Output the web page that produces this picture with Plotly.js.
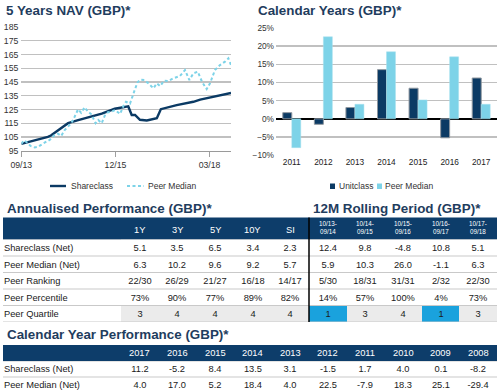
<!DOCTYPE html>
<html><head><meta charset="utf-8">
<script src="https://cdn.plot.ly/plotly-3.0.1.min.js"></script>
<style>html,body{margin:0;padding:0;background:#fff;}#chart{width:497px;height:391px;}</style>
</head><body><div id="chart"></div>
<script>
// ---------- 5 Years NAV ----------
const shareDates = ['2013-09-30','2014-01-27','2014-05-20','2014-06-15','2014-08-15','2014-11-12','2015-02-08','2015-05-20','2015-09-02','2015-12-24','2016-04-20','2016-05-20','2016-06-18','2016-07-31','2016-09-29','2016-12-25','2017-01-29','2017-06-16','2017-11-09','2018-01-07','2018-05-31','2018-10-03'];
const shareNav = [100,102.5,105,106,109.5,115,117.3,119.5,122,125.5,127.2,121,121,117.5,117,118.6,125.2,128.2,130.6,132.2,134.8,137];
const peerDates = ['2013-09-30','2013-10-24','2013-11-19','2013-12-19','2014-01-25','2014-02-23','2014-04-21','2014-06-07','2014-07-17','2014-08-15','2014-09-13','2014-10-13','2014-11-11','2014-12-10','2015-01-07','2015-02-07','2015-03-06','2015-04-05','2015-05-04','2015-06-03','2015-07-10','2015-08-02','2015-09-01','2015-09-28','2015-10-26','2015-11-24','2015-12-26','2016-01-15','2016-02-09','2016-03-08','2016-03-31','2016-05-05','2016-06-03','2016-07-08','2016-07-31','2016-09-07','2016-10-12','2016-11-25','2016-12-25','2017-01-23','2017-02-27','2017-04-04','2017-05-17','2017-07-14','2017-08-28','2017-10-05','2017-11-09','2017-12-17','2018-01-24','2018-03-05','2018-04-03','2018-05-16','2018-06-29','2018-08-12','2018-09-10','2018-10-03'];
const peerNav = [100,102.5,101,98.5,97.4,97.8,100.8,103,106.4,107.4,105.7,110,112.5,115,119.5,125.1,122.6,126.6,123.4,121.5,115,117.3,115,120.5,123,123.4,124.6,123.4,121.7,127.5,130.6,129.3,136.7,144.5,146.6,146.4,144,140.4,144,142,146,145.7,147.6,149.3,153.7,146.4,151.3,152.5,145,139.8,144,153.7,157.3,159.8,162.2,157.3];
const navTickVals = ['2013-09-30','2015-12-30','2018-03-30'];
const navTickText = ['09/13','12/15','03/18'];

// ---------- Calendar Years chart ----------
const barYears = ['2011','2012','2013','2014','2015','2016','2017'];
const barUnitclass = [1.7,-1.5,3.1,13.5,8.4,-5.2,11.2];
const barPeer = [-7.9,22.5,4.0,18.4,5.2,17.0,4.0];

// ---------- Annualised / Rolling tables ----------
const rowLabels = ['Shareclass (Net)','Peer Median (Net)','Peer Ranking','Peer Percentile','Peer Quartile'];
const annPeriods = ['1Y','3Y','5Y','10Y','SI'];
const annShareclass = [5.1,3.5,6.5,3.4,2.3];
const annPeerMedian = [6.3,10.2,9.6,9.2,5.7];
const annRanking = ['22/30','26/29','21/27','16/18','14/17'];
const annPercentile = [73,90,77,89,82];
const annQuartile = [3,4,4,4,4];
const rollPeriods = ['10/13-09/14','10/14-09/15','10/15-09/16','10/16-09/17','10/17-09/18'];
const rollShareclass = [12.4,9.8,-4.8,10.8,5.1];
const rollPeerMedian = [5.9,10.3,26.0,-1.1,6.3];
const rollRanking = ['5/30','18/31','31/31','2/32','22/30'];
const rollPercentile = [14,57,100,4,73];
const rollQuartile = [1,3,4,1,3];

// ---------- Calendar Year Performance table ----------
const cyYears = ['2017','2016','2015','2014','2013','2012','2011','2010','2009','2008'];
const cyLabels = ['Shareclass (Net)','Peer Median (Net)'];
const cyShareclass = [11.2,-5.2,8.4,13.5,3.1,-1.5,1.7,4.0,0.1,-8.2];
const cyPeerMedian = [4.0,17.0,5.2,18.4,4.0,22.5,-7.9,18.3,25.1,-29.4];

// ---------- helpers / styles ----------
const W = 497, H = 391;
const px = v => v / W;
const py = v => 1 - v / H;
const FONT = 'Liberation Sans, Arial, sans-serif';
const NAVY = '#0b3a64';
const HEAD = '#0d3d6a';
const LIGHT = '#7dd3e8';
const TITLE = '#1f3d5e';
const CYAN = '#1aa2dd';
const QGRAY = '#ebebeb';
const SEP = '#c9c9c9';
const f1 = v => v.toFixed(1);

// table matrices built from the arrays
const tCols = annPeriods.concat(rollPeriods);
const tShare = annShareclass.concat(rollShareclass).map(f1);
const tPeer = annPeerMedian.concat(rollPeerMedian).map(f1);
const tRank = annRanking.concat(rollRanking);
const tPct = annPercentile.concat(rollPercentile).map(v => v + '%');
const tQuart = annQuartile.concat(rollQuartile);
const tText = [tShare, tPeer, tRank, tPct, tQuart.map(String)];
const tZ = [tCols.map(() => 0), tCols.map(() => 0), tCols.map(() => 0), tCols.map(() => 0), tQuart.map(q => q === 1 ? 2 : 1)];
const cyText = [cyShareclass.map(f1), cyPeerMedian.map(f1)];
const cyZ = [cyYears.map(() => 0), cyYears.map(() => 0)];
const cellScale = [[0, '#ffffff'], [0.5, QGRAY], [1, CYAN]];

const traces = [
  {type: 'scatter', mode: 'lines', name: 'Shareclass', x: shareDates, y: shareNav,
   xaxis: 'x', yaxis: 'y', line: {color: NAVY, width: 2.4}, showlegend: false, hoverinfo: 'skip'},
  {type: 'scatter', mode: 'lines', name: 'Peer Median', x: peerDates, y: peerNav,
   xaxis: 'x', yaxis: 'y', line: {color: LIGHT, width: 2, dash: '3px,2.5px'}, showlegend: false, hoverinfo: 'skip'},
  {type: 'bar', name: 'Unitclass', x: barYears, y: barUnitclass, xaxis: 'x2', yaxis: 'y2',
   marker: {color: NAVY, line: {color: '#8e969e', width: 1}}, showlegend: false, hoverinfo: 'skip'},
  {type: 'bar', name: 'Peer Median', x: barYears, y: barPeer, xaxis: 'x2', yaxis: 'y2',
   marker: {color: LIGHT, line: {color: '#a9e0ee', width: 0.5}}, showlegend: false, hoverinfo: 'skip'},
  {type: 'heatmap', x: tCols, y: rowLabels, z: tZ, text: tText, texttemplate: '%{text}',
   textfont: {family: FONT, size: 9.3, color: '#1a1a1a'}, colorscale: cellScale, zmin: 0, zmax: 2,
   showscale: false, xaxis: 'x3', yaxis: 'y3', hoverinfo: 'skip'},
  {type: 'heatmap', x: cyYears, y: cyLabels, z: cyZ, text: cyText, texttemplate: '%{text}',
   textfont: {family: FONT, size: 9.3, color: '#1a1a1a'}, colorscale: cellScale, zmin: 0, zmax: 2,
   showscale: false, xaxis: 'x4', yaxis: 'y4', hoverinfo: 'skip'}
];

const tickFont = {family: FONT, size: 8.7, color: '#333'};
const gridColor = '#c0c0c0';

const annotations = [];
function title(text, x, y, anchor) {
  annotations.push({text: '<b>' + text + '</b>', xref: 'paper', yref: 'paper', x: px(x), y: py(y),
    xanchor: anchor || 'left', yanchor: 'middle', showarrow: false,
    font: {family: FONT, size: 13.4, color: TITLE}});
}
title('5 Years NAV (GBP)*', 3.5, 10.5);
title('Calendar Years (GBP)*', 256, 10.5);
title('Annualised Performance (GBP)*', 4.5, 208.5);
title('12M Rolling Period (GBP)*', 311, 208.5);
title('Calendar Year Performance (GBP)*', 4.5, 334.5);

// table headers placed on the table axes (category index positions)
annPeriods.forEach((p, i) => annotations.push({text: p, xref: 'x3', yref: 'paper', x: i, y: py(230),
  showarrow: false, yanchor: 'middle', font: {family: FONT, size: 9.3, color: '#ffffff'}}));
rollPeriods.forEach((p, i) => annotations.push({text: p.replace('-', '-<br>'), xref: 'x3', yref: 'paper',
  x: annPeriods.length + i, y: py(227.8),
  showarrow: false, yanchor: 'middle', font: {family: FONT, size: 6.3, color: '#ffffff'}}));
cyYears.forEach((p, i) => annotations.push({text: p, xref: 'x4', yref: 'paper', x: i, y: py(353.3),
  showarrow: false, yanchor: 'middle', font: {family: FONT, size: 9.3, color: '#ffffff'}}));

// legends
function legText(text, x, y) {
  annotations.push({text: text, xref: 'paper', yref: 'paper', x: px(x), y: py(y), xanchor: 'left', yanchor: 'middle',
    showarrow: false, font: {family: FONT, size: 8.5, color: '#333'}});
}
legText('Shareclass', 69, 186);
legText('Peer Median', 146, 186);
legText('Unitclass', 337, 186);
legText('Peer Median', 383, 186);

const shapes = [
  // header bands
  {type: 'rect', xref: 'paper', yref: 'paper', x0: px(3), x1: 1, y0: py(239.5), y1: py(217.5), fillcolor: HEAD, line: {width: 0}, layer: 'below'},
  {type: 'rect', xref: 'paper', yref: 'paper', x0: px(3), x1: 1, y0: py(361), y1: py(345), fillcolor: HEAD, line: {width: 0}, layer: 'below'},
  // legend symbols
  {type: 'line', xref: 'paper', yref: 'paper', x0: px(50), x1: px(66), y0: py(186), y1: py(186), line: {color: NAVY, width: 2.4}},
  {type: 'line', xref: 'paper', yref: 'paper', x0: px(127), x1: px(144), y0: py(186), y1: py(186), line: {color: LIGHT, width: 2, dash: '3px,2.5px'}},
  {type: 'rect', xref: 'paper', yref: 'paper', x0: px(330), x1: px(335), y0: py(189), y1: py(183.5), fillcolor: NAVY, line: {width: 0}},
  {type: 'rect', xref: 'paper', yref: 'paper', x0: px(377), x1: px(382), y0: py(189), y1: py(183.5), fillcolor: LIGHT, line: {width: 0}}
];
// row separators
for (let i = 0; i <= rowLabels.length; i++) {
  shapes.push({type: 'line', xref: 'paper', yref: 'y3', x0: px(3), x1: 1, y0: i - 0.5, y1: i - 0.5, line: {color: SEP, width: 1}, layer: 'above'});
}
for (let i = 0; i <= cyLabels.length; i++) {
  shapes.push({type: 'line', xref: 'paper', yref: 'y4', x0: px(3), x1: 1, y0: i - 0.5, y1: i - 0.5, line: {color: SEP, width: 1}, layer: 'above'});
}
// divider between annualised and rolling blocks
shapes.push({type: 'line', xref: 'x3', yref: 'paper', x0: annPeriods.length - 0.5, x1: annPeriods.length - 0.5,
  y0: py(322), y1: py(217.5), line: {color: '#000', width: 1.5}, layer: 'above'});

const hidden = {showticklabels: false, showgrid: false, zeroline: false, showline: false, ticks: '', fixedrange: true};

const layout = {
  width: W, height: H, autosize: false,
  margin: {l: 0, r: 0, t: 0, b: 0, pad: 0},
  paper_bgcolor: '#fff', plot_bgcolor: '#fff',
  font: {family: FONT, size: 9, color: '#222'},
  showlegend: false, hovermode: false,
  barmode: 'group', bargap: 0.43, bargroupgap: 0,
  xaxis: {domain: [px(21.3), px(231)], anchor: 'y', type: 'date',
    range: ['2013-09-30', '2018-10-03'], tickvals: navTickVals, ticktext: navTickText,
    ticks: 'outside', ticklen: 5, tickwidth: 1, tickcolor: '#a0a0a0', showgrid: false, zeroline: false,
    showline: true, linecolor: '#9a9a9a', linewidth: 1.5, tickfont: tickFont},
  yaxis: {domain: [py(150.7), py(27)], anchor: 'x', range: [95, 185], tick0: 95, dtick: 10,
    showgrid: true, gridcolor: gridColor, gridwidth: 1.3, zeroline: false, showline: false, ticks: '',
    tickfont: tickFont, ticklabelstandoff: 2},
  xaxis2: {domain: [px(276), 1], anchor: 'y2', type: 'category', ticks: '', showgrid: false, zeroline: false,
    showline: false, tickfont: {family: FONT, size: 8.3, color: '#222'}},
  yaxis2: {domain: [py(155.3), py(27.7)], anchor: 'x2', range: [-10, 25], dtick: 5, ticksuffix: '%',
    showgrid: true, gridcolor: gridColor, gridwidth: 1.3, zeroline: true, zerolinecolor: '#000', zerolinewidth: 1.5,
    showline: false, ticks: '', tickfont: {family: FONT, size: 8.3, color: '#333'}, ticklabelstandoff: 1},
  xaxis3: Object.assign({domain: [px(121), 1], anchor: 'y3', type: 'category', range: [-0.5, tCols.length - 0.5]}, hidden),
  yaxis3: {domain: [py(322), py(239.5)], anchor: 'free', position: px(3), side: 'right', type: 'category',
    range: [rowLabels.length - 0.5, -0.5], showgrid: false, zeroline: false, showline: false, ticks: '',
    tickfont: {family: FONT, size: 9.3, color: '#1a1a1a'}, ticklabelstandoff: 0},
  xaxis4: Object.assign({domain: [px(121), 1], anchor: 'y4', type: 'category', range: [-0.5, cyYears.length - 0.5]}, hidden),
  yaxis4: {domain: [0, py(361)], anchor: 'free', position: px(3), side: 'right', type: 'category',
    range: [-0.5 + 30 / 16, -0.5], showgrid: false, zeroline: false, showline: false, ticks: '',
    tickfont: {family: FONT, size: 9.3, color: '#1a1a1a'}, ticklabelstandoff: 0},
  annotations: annotations,
  shapes: shapes
};

Plotly.newPlot('chart', traces, layout, {displayModeBar: false, staticPlot: true});
</script></body></html>
